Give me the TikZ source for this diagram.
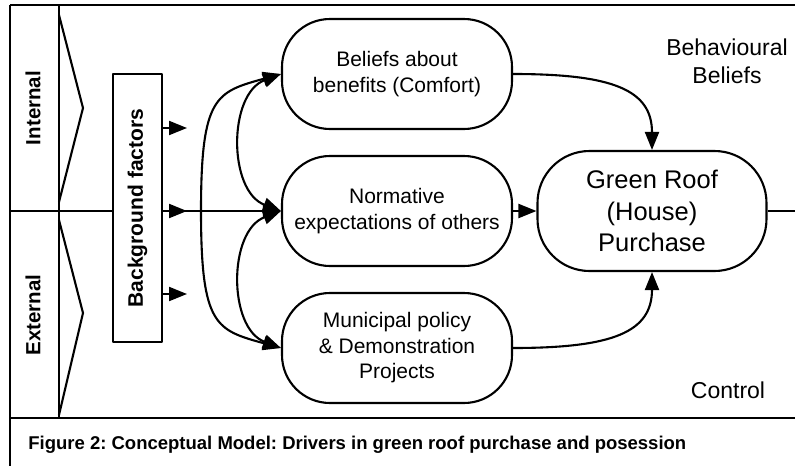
\documentclass[tikz,border=0pt]{standalone}
\usepackage{fontspec}
\setmainfont{Liberation Sans}
\usetikzlibrary{arrows.meta}
\frenchspacing
\begin{document}
\begin{tikzpicture}[x=1pt, y=-1pt, line width=2.1pt, line join=round,
  tip/.tip={Triangle[length=18pt, width=14pt]},
  arr/.style={-tip},
  twoway/.style={tip-tip},
  stage/.style={draw, rounded corners=48pt, minimum width=230pt, minimum height=110pt,
    align=center, inner sep=0pt, font=\fontsize{21}{25.5}\selectfont},
  sidelabel/.style={rotate=90, font=\bfseries\fontsize{20.5}{24}\selectfont},
  plainlabel/.style={align=center, font=\fontsize{23}{28}\selectfont}]
\useasboundingbox (0,0) rectangle (795,466);

% frame, column divider and the two halves
\draw[line width=2.8pt] (10,5) -- (795,5);
\draw (10,5) -- (10,466);
\draw (10,418) -- (795,418);
\draw (59,5) -- (59,418);
\draw (59,15) -- (83,108) -- (59,202);
\draw (59,220) -- (83,313) -- (59,415);
\node[sidelabel] (int) at (33,108) {Internal};
\node[sidelabel] (ext) at (33,315) {External};

% driver stages
\node[stage] (bel) at (397,74)  {Beliefs about\\benefits (Comfort)};
\node[stage] (nor) at (397,211) {Normative\\expectations of others};
\node[stage] (mun) at (397,348) {Municipal policy\\\& Demonstration\\Projects};
\node[stage, minimum width=229pt, minimum height=120pt, rounded corners=52pt,
  font=\fontsize{25.5}{31.5}\selectfont] (gr) at (652,211) {Green Roof\\(House)\\Purchase};

% dividing line through the middle
\coordinate (leftend) at (10,211);
\coordinate (rightend) at (795,211);
\draw[arr] (leftend) -- (nor.west);
\draw (gr.east) -- (rightend);

% background factors and their outputs
\node[draw, fill=white, rotate=90, minimum width=268pt, minimum height=49pt,
  inner sep=0pt, font=\bfseries\fontsize{21}{25}\selectfont] (bg) at (137.5,208) {Background factors};
\coordinate (o1) at (187,128);
\coordinate (o2) at (187,211);
\coordinate (o3) at (187,294);
\draw[arr] (bg.south |- o1) -- (o1);
\draw[arr] (bg.south |- o2) -- (o2);
\draw[arr] (bg.south |- o3) -- (o3);

% mutual links between the stages
\coordinate (bigmid) at (201,211);
\draw[tip-] (bel.west) .. controls +(-65,18) and +(0,-115) .. (bigmid);
\draw[-tip] (bigmid) .. controls +(0,115) and +(-65,-18) .. (mun.west);
\draw[twoway] (bel.west) .. controls +(-53,20) and +(-53,-20) .. (nor.west);
\draw[twoway] (nor.west) .. controls +(-53,20) and +(-53,-20) .. (mun.west);

% links into the purchase
\draw[arr] (bel.east) .. controls +(100,0) and +(0,-60) .. (gr.north);
\draw[arr] (nor.east) -- (gr.west);
\draw[arr] (mun.east) .. controls +(100,0) and +(0,60) .. (gr.south);

% corner labels
\node[plainlabel] (beh) at (727,61) {Behavioural\\Beliefs};
\node[plainlabel] (ctl) at (728,390) {Control};

% caption
\node[anchor=west, font=\bfseries\fontsize{18.5}{22}\selectfont] (cap) at (24,445)
  {Figure 2: Conceptual Model: Drivers in green roof purchase and posession};
\end{tikzpicture}
\end{document}
